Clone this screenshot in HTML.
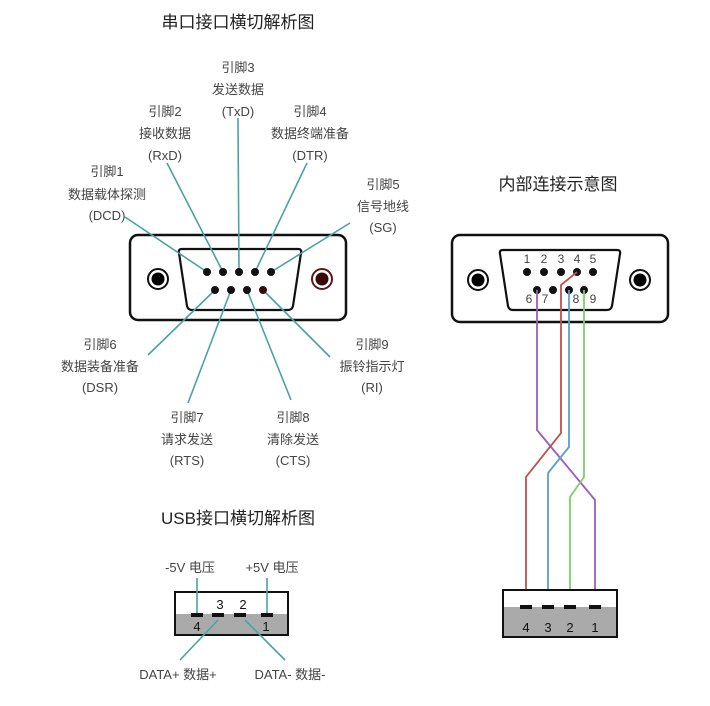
<!DOCTYPE html>
<html><head><meta charset="utf-8"><style>
html,body{margin:0;padding:0;background:#fff;}
svg{display:block;}
text{font-family:"Liberation Sans","Noto Sans CJK SC",sans-serif;fill:#444;}
.l{font-size:13px;text-anchor:middle;}
.t{font-size:17px;fill:#222;text-anchor:middle;}
.tl{stroke:#4aa3a3;stroke-width:1.6;fill:none;}
</style></head><body>
<svg width="710" height="706" viewBox="0 0 710 706" xmlns="http://www.w3.org/2000/svg">
<text class="t" x="238" y="28">串口接口横切解析图</text>
<text class="t" x="558" y="190">内部连接示意图</text>
<text class="t" x="238" y="524">USB接口横切解析图</text>

<text class="l" x="238" y="72">引脚3</text><text class="l" x="238" y="94">发送数据</text><text class="l" x="238" y="116">(TxD)</text>
<text class="l" x="165" y="116">引脚2</text><text class="l" x="165" y="138">接收数据</text><text class="l" x="165" y="160">(RxD)</text>
<text class="l" x="310" y="116">引脚4</text><text class="l" x="310" y="138">数据终端准备</text><text class="l" x="310" y="160">(DTR)</text>
<text class="l" x="107" y="176">引脚1</text><text class="l" x="107" y="199">数据载体探测</text><text class="l" x="107" y="220">(DCD)</text>
<text class="l" x="383" y="189">引脚5</text><text class="l" x="383" y="211">信号地线</text><text class="l" x="383" y="232">(SG)</text>
<text class="l" x="100" y="349">引脚6</text><text class="l" x="100" y="371">数据装备准备</text><text class="l" x="100" y="392">(DSR)</text>
<text class="l" x="187" y="422">引脚7</text><text class="l" x="187" y="444">请求发送</text><text class="l" x="187" y="465">(RTS)</text>
<text class="l" x="293" y="422">引脚8</text><text class="l" x="293" y="444">清除发送</text><text class="l" x="293" y="465">(CTS)</text>
<text class="l" x="372" y="349">引脚9</text><text class="l" x="372" y="371">振铃指示灯</text><text class="l" x="372" y="392">(RI)</text>

<!-- left DB9 -->
<rect x="130" y="235" width="216" height="85" rx="8" fill="#fff" stroke="#111" stroke-width="2.5"/>
<path d="M182 249 L298 249 Q302 249 301 253 L293 306 Q292 310 288 310 L192 310 Q188 310 187 306 L179 253 Q178 249 182 249Z" fill="#fff" stroke="#111" stroke-width="2.2"/>
<circle cx="158" cy="279" r="10" fill="#fff" stroke="#111" stroke-width="2"/><circle cx="158" cy="279" r="6.5" fill="#000"/>
<circle cx="322" cy="279" r="10" fill="#fff" stroke="#5a1a1a" stroke-width="2"/><circle cx="322" cy="279" r="6.5" fill="#3a0a0a"/>

<!-- leader lines -->
<line class="tl" x1="125" y1="217" x2="207" y2="272"/>
<line class="tl" x1="167" y1="163" x2="223" y2="272"/>
<line class="tl" x1="238" y1="118" x2="239" y2="272"/>
<line class="tl" x1="307" y1="163" x2="255" y2="272"/>
<line class="tl" x1="350" y1="223" x2="271" y2="272"/>
<line class="tl" x1="148" y1="355" x2="215" y2="290"/>
<line class="tl" x1="188" y1="403" x2="231" y2="290"/>
<line class="tl" x1="291" y1="400" x2="247" y2="290"/>
<line class="tl" x1="330" y1="357" x2="263" y2="290"/>

<g fill="#111">
<circle cx="207" cy="272" r="4"/><circle cx="223" cy="272" r="4"/><circle cx="239" cy="272" r="4"/><circle cx="255" cy="272" r="4"/><circle cx="271" cy="272" r="4"/>
<circle cx="215" cy="290" r="4"/><circle cx="231" cy="290" r="4"/><circle cx="247" cy="290" r="4"/><circle cx="263" cy="290" r="4" fill="#3a0a0a"/>
</g>

<!-- right DB9 -->
<rect x="452" y="235" width="216" height="87" rx="8" fill="#fff" stroke="#111" stroke-width="2.5"/>
<path d="M503 250 L617 250 Q621 250 620 254 L612 306 Q611 310 607 310 L513 310 Q509 310 508 306 L500 254 Q499 250 503 250Z" fill="#fff" stroke="#111" stroke-width="2.2"/>
<circle cx="478" cy="280" r="10" fill="#fff" stroke="#111" stroke-width="2"/><circle cx="478" cy="280" r="6.5" fill="#000"/>
<circle cx="640" cy="280" r="10" fill="#fff" stroke="#111" stroke-width="2"/><circle cx="640" cy="280" r="6.5" fill="#000"/>
<g fill="#111">
<circle cx="527" cy="272" r="4"/><circle cx="544" cy="272" r="4"/><circle cx="561" cy="272" r="4"/><circle cx="577" cy="272" r="4"/><circle cx="593" cy="272" r="4"/>
<circle cx="537" cy="290" r="4"/><circle cx="553" cy="290" r="4"/><circle cx="569" cy="290" r="4"/><circle cx="584" cy="290" r="4"/>
</g>
<g font-size="12" text-anchor="middle">
<text x="527" y="263">1</text><text x="544" y="263">2</text><text x="561" y="263">3</text><text x="577" y="263">4</text><text x="593" y="263">5</text>
<text x="529" y="303">6</text><text x="545" y="303">7</text><text x="576" y="303">8</text><text x="593" y="303">9</text>
</g>

<!-- wires -->
<g fill="none" stroke-width="1.8">
<polyline points="537,290 537,430 595,500 595,605" stroke="#a05cc0"/>
<polyline points="577,272 561,285 561,433 526,477 526,605" stroke="#c0504a"/>
<polyline points="569,290 569,447 548,473 548,605" stroke="#5aa0c8"/>
<polyline points="584,290 584,477 570,497 570,605" stroke="#7ccf6a"/>
</g>

<!-- right USB -->
<rect x="503" y="590" width="114" height="47" fill="#fff" stroke="#111" stroke-width="2"/>
<rect x="504" y="607" width="112" height="29" fill="#aaa"/>
<g fill="#111"><rect x="520" y="605" width="12" height="4"/><rect x="542" y="605" width="12" height="4"/><rect x="564" y="605" width="12" height="4"/><rect x="589" y="605" width="12" height="4"/></g>
<g font-size="13" text-anchor="middle">
<text x="526" y="632" style="fill:#111">4</text><text x="548" y="632" style="fill:#111">3</text><text x="570" y="632" style="fill:#111">2</text><text x="595" y="632" style="fill:#111">1</text></g>

<!-- left USB -->
<text class="l" x="190" y="572">-5V 电压</text>
<text class="l" x="272" y="572">+5V 电压</text>
<rect x="175" y="592" width="113" height="43" fill="#fff" stroke="#111" stroke-width="2"/>
<rect x="176" y="614" width="111" height="20" fill="#aaa"/>
<line class="tl" x1="197" y1="578" x2="197" y2="614"/>
<line class="tl" x1="267" y1="578" x2="267" y2="614"/>
<line class="tl" x1="180" y1="660" x2="218" y2="620"/>
<line class="tl" x1="285" y1="660" x2="245" y2="620"/>
<g fill="#111"><rect x="191" y="613" width="12" height="4"/><rect x="212" y="613" width="12" height="4"/><rect x="234" y="613" width="12" height="4"/><rect x="261" y="613" width="12" height="4"/></g>
<g font-size="13" text-anchor="middle">
<text x="220" y="609" style="fill:#111">3</text><text x="243" y="609" style="fill:#111">2</text>
<text x="197" y="631" style="fill:#111">4</text><text x="266" y="631" style="fill:#111">1</text></g>
<text class="l" x="178" y="679">DATA+ 数据+</text>
<text class="l" x="290" y="679">DATA- 数据-</text>
</svg>
</body></html>
